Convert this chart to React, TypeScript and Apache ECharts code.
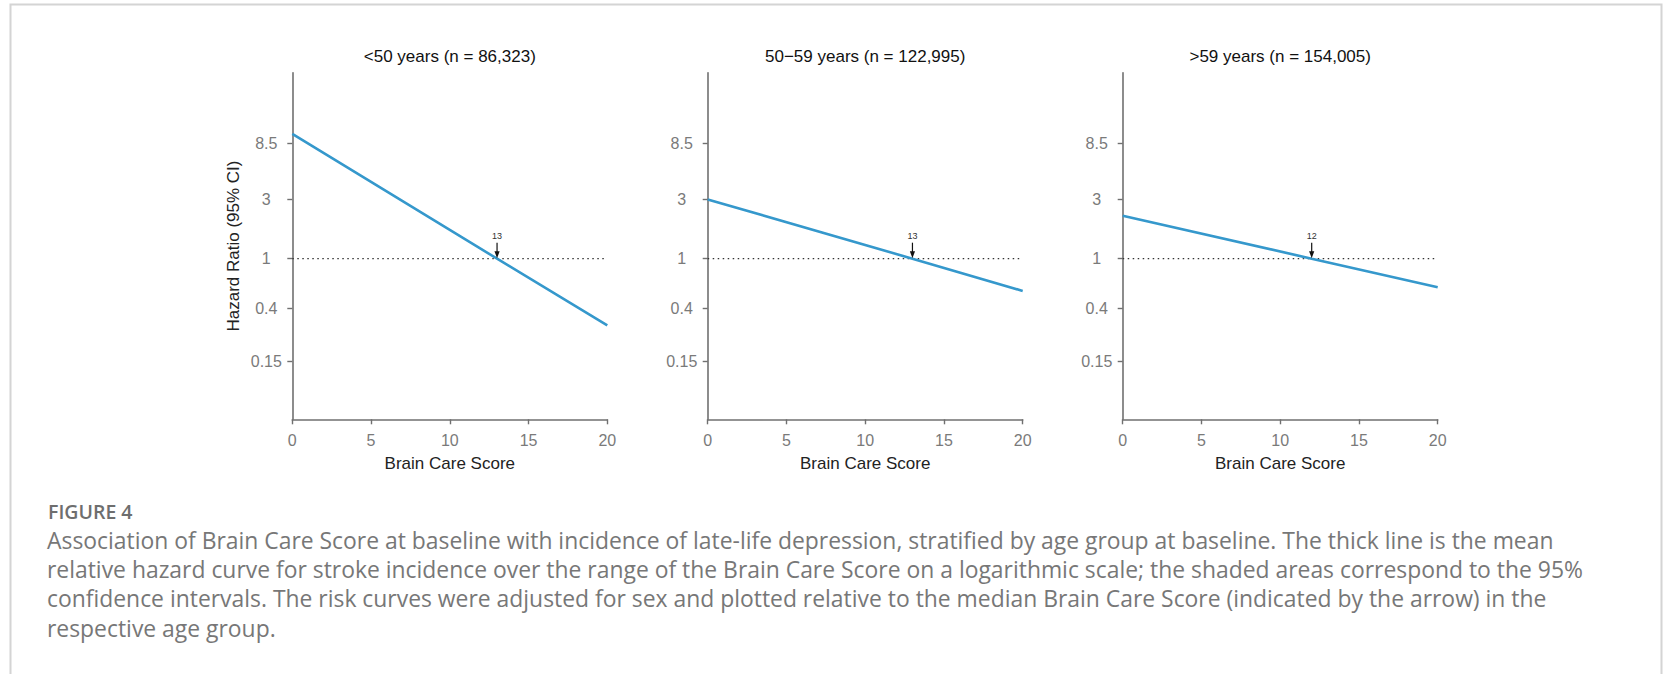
import React, { useEffect, useRef } from "react";
import * as echarts from "echarts";

// ---- data ----
const panelTitles = [
  "<50 years (n = 86,323)",
  "50\u221259 years (n = 122,995)",
  ">59 years (n = 154,005)",
];
const xTicks = [0, 5, 10, 15, 20];
const yTickValues = [0.15, 0.4, 1, 3, 8.5];
const yTickLabels = ["0.15", "0.4", "1", "3", "8.5"];
const medianScores = [13, 13, 12];
const hrUnder50 = [
  [0, 10.1],
  [13, 1.0],
  [20, 0.29],
];
const hr50to59 = [
  [0, 3.0],
  [13, 1.0],
  [20, 0.55],
];
const hrOver59 = [
  [0, 2.22],
  [12, 1.0],
  [20, 0.59],
];
const referenceHR = [
  [0, 1],
  [20, 1],
];
const captionHead = "FIGURE 4";
const captionLines = [
  "Association of Brain Care Score at baseline with incidence of late-life depression, stratified by age group at baseline. The thick line is the mean",
  "relative hazard curve for stroke incidence over the range of the Brain Care Score on a logarithmic scale; the shaded areas correspond to the 95%",
  "confidence intervals. The risk curves were adjusted for sex and plotted relative to the median Brain Care Score (indicated by the arrow) in the",
  "respective age group.",
];

const panels = [hrUnder50, hr50to59, hrOver59];

// ---- layout ----
const W = 1663;
const H = 674;
const gridLefts = [292.3, 707.7, 1122.7];
const gridWidth = 315;
const gridTop = 72.7;
const gridHeight = 346.6;
const yMin = 0.0509;
const yMax = 31.45;
const chartFont = "'Liberation Sans', Arial, Helvetica, sans-serif";
const captionFont = "'Open Sans', 'Noto Sans', sans-serif";
const axisGray = "#707070";
const labelGray = "#7a7a7a";
const lineBlue = "#3598cc";

export default function App() {
  const ref = useRef<HTMLDivElement>(null);

  useEffect(() => {
    if (!ref.current) return;
    const chart = echarts.init(ref.current, undefined, { renderer: "svg" });

    const grids = gridLefts.map((left) => ({
      left,
      top: gridTop,
      width: gridWidth,
      height: gridHeight,
      containLabel: false,
    }));

    const xAxes = gridLefts.map((_, i) => ({
      type: "value",
      gridIndex: i,
      min: xTicks[0],
      max: xTicks[xTicks.length - 1],
      interval: 5,
      name: "Brain Care Score",
      nameLocation: "middle",
      nameGap: 36,
      nameTextStyle: { fontSize: 17, color: "#222", fontFamily: chartFont },
      axisLine: { show: true, onZero: false, lineStyle: { color: axisGray, width: 1.6 } },
      axisTick: { show: true, inside: false, length: 5, lineStyle: { color: axisGray, width: 1.4 } },
      axisLabel: { color: labelGray, fontSize: 16, margin: 13, fontFamily: chartFont },
      splitLine: { show: false },
    }));

    const yAxes = gridLefts.map((_, i) => ({
      type: "log",
      logBase: 10,
      gridIndex: i,
      min: yMin,
      max: yMax,
      name: i === 0 ? "Hazard Ratio (95% CI)" : "",
      nameLocation: "middle",
      nameGap: 50,
      nameRotate: 90,
      nameTextStyle: { fontSize: 17, color: "#222", fontFamily: chartFont },
      axisLine: { show: true, onZero: false, lineStyle: { color: axisGray, width: 1.6 } },
      axisTick: {
        show: true,
        inside: false,
        length: 5,
        customValues: yTickValues,
        lineStyle: { color: axisGray, width: 1.4 },
      },
      axisLabel: {
        color: labelGray,
        fontSize: 16,
        margin: 26,
        align: "center",
        fontFamily: chartFont,
        customValues: yTickValues,
        formatter: (v: number) => {
          let best = 0;
          yTickValues.forEach((t, k) => {
            if (Math.abs(Math.log(t) - Math.log(v)) < Math.abs(Math.log(yTickValues[best]) - Math.log(v))) best = k;
          });
          return yTickLabels[best];
        },
      },
      splitLine: { show: false },
      minorTick: { show: false },
    }));

    const series: any[] = [];
    panels.forEach((data, i) => {
      series.push({
        type: "line",
        xAxisIndex: i,
        yAxisIndex: i,
        data: referenceHR,
        showSymbol: false,
        symbol: "none",
        lineStyle: { color: "#333", width: 1.2, type: [1.5, 3.5] },
        z: 2,
      });
      series.push({
        type: "line",
        xAxisIndex: i,
        yAxisIndex: i,
        data,
        showSymbol: false,
        symbol: "none",
        lineStyle: { color: lineBlue, width: 2.6 },
        z: 3,
      });
    });

    chart.setOption({
      animation: false,
      backgroundColor: "#ffffff",
      grid: grids,
      xAxis: xAxes,
      yAxis: yAxes,
      series,
    });

    // graphics: frame, panel titles, median arrows, caption
    const graphic: any[] = [
      {
        type: "rect",
        shape: { x: 10.5, y: 4.5, width: 1651, height: 720 },
        style: { fill: "none", stroke: "#d4d4d4", lineWidth: 2 },
        silent: true,
      },
    ];
    gridLefts.forEach((left, i) => {
      graphic.push({
        type: "text",
        x: left + gridWidth / 2,
        y: 56,
        style: {
          text: panelTitles[i],
          font: `17px ${chartFont}`,
          fill: "#111",
          align: "center",
          verticalAlign: "middle",
        },
      });
      const p = chart.convertToPixel({ gridIndex: i } as any, [medianScores[i], 1]) as number[];
      if (p) {
        const [px, py] = p;
        graphic.push({
          type: "line",
          shape: { x1: px, y1: py - 16, x2: px, y2: py - 5 },
          style: { stroke: "#111", lineWidth: 1.2 },
          z: 10,
        });
        graphic.push({
          type: "polygon",
          shape: { points: [[px - 2.6, py - 7.5], [px + 2.6, py - 7.5], [px, py - 0.5]] },
          style: { fill: "#111" },
          z: 10,
        });
        graphic.push({
          type: "text",
          x: px,
          y: py - 23,
          style: {
            text: String(medianScores[i]),
            font: `9px ${chartFont}`,
            fill: "#333",
            align: "center",
            verticalAlign: "middle",
          },
          z: 10,
        });
      }
    });
    graphic.push({
      type: "text",
      x: 48,
      y: 511,
      style: {
        text: captionHead,
        font: `600 19.5px ${captionFont}`,
        fill: "#6e6e6e",
        align: "left",
        verticalAlign: "middle",
      },
    });
    captionLines.forEach((line, k) => {
      graphic.push({
        type: "text",
        x: 47,
        y: 540 + k * 29.4,
        style: {
          text: line,
          font: `22.9px ${captionFont}`,
          fill: "#777777",
          align: "left",
          verticalAlign: "middle",
        },
      });
    });

    chart.setOption({ graphic });

    return () => chart.dispose();
  }, []);

  return (
    <div
      ref={ref}
      style={{ position: "fixed", left: 0, top: 0, width: W, height: H, background: "#fff" }}
    />
  );
}
